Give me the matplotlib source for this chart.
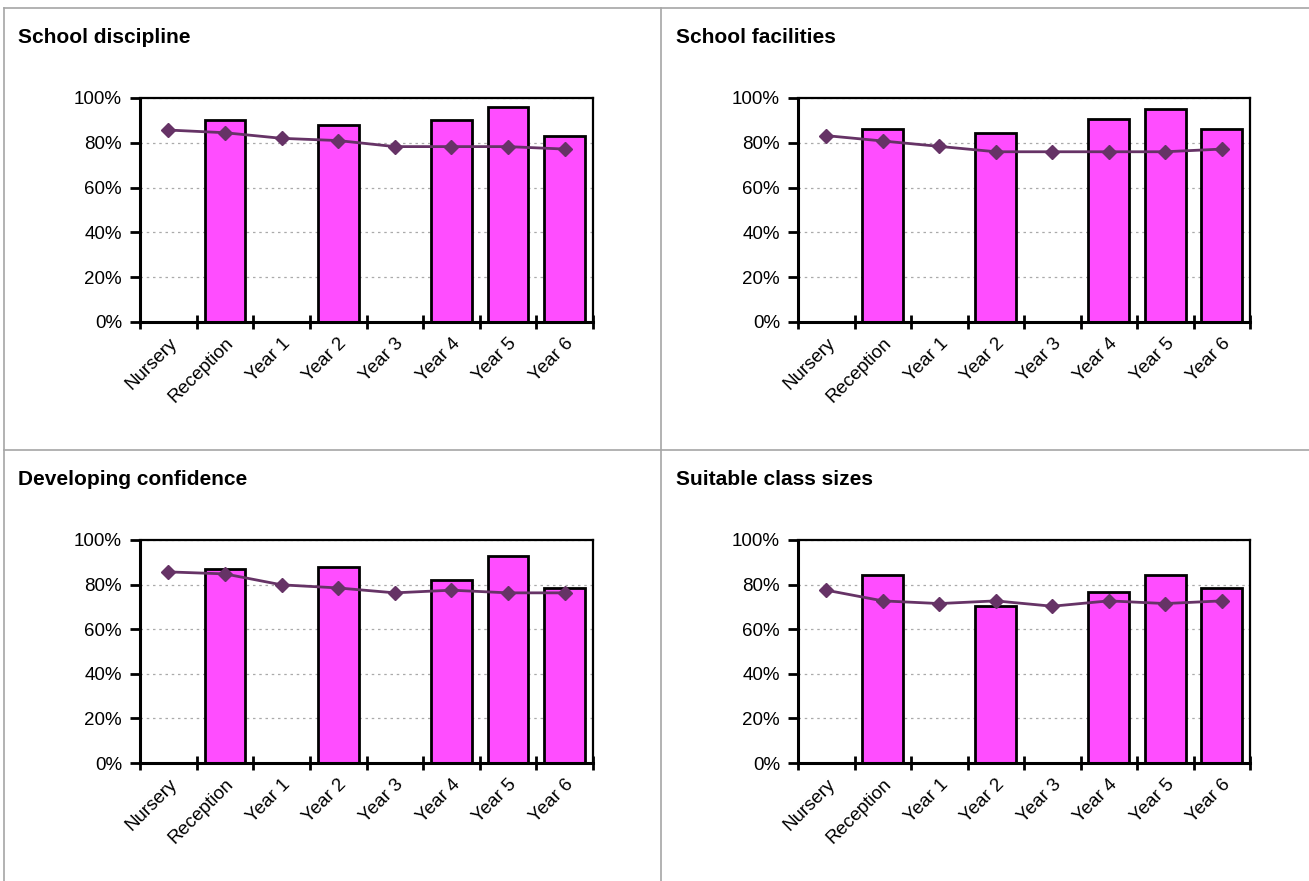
import numpy as np
import matplotlib.pyplot as plt
from matplotlib.lines import Line2D
from matplotlib.ticker import FixedLocator, PercentFormatter

plt.rcParams['font.family'] = ['Liberation Sans', 'DejaVu Sans']

categories = ["Nursery", "Reception", "Year 1", "Year 2", "Year 3", "Year 4", "Year 5", "Year 6"]
titles = ["School discipline", "School facilities", "Developing confidence", "Suitable class sizes"]

# bars (school) - NaN where there is no bar
bars_discipline = [np.nan, 90, np.nan, 88, np.nan, 90, 96, 83]
bars_facilities = [np.nan, 86, np.nan, 84.5, np.nan, 90.5, 95, 86]
bars_confidence = [np.nan, 87, np.nan, 88, np.nan, 82, 93, 78.5]
bars_classsize = [np.nan, 84.5, np.nan, 70.5, np.nan, 76.5, 84.5, 78.5]

# line (comparison)
line_discipline = [85.7, 84.5, 82, 81, 78.3, 78.3, 78.3, 77.2]
line_facilities = [83.2, 80.8, 78.4, 76, 76, 76, 76, 77.2]
line_confidence = [85.7, 84.8, 79.9, 78.5, 76.3, 77.5, 76.3, 76.3]
line_classsize = [77.5, 72.7, 71.5, 72.7, 70.3, 72.7, 71.5, 72.7]

bar_sets = [bars_discipline, bars_facilities, bars_confidence, bars_classsize]
line_sets = [line_discipline, line_facilities, line_confidence, line_classsize]

W, H = 1309, 881
fig = plt.figure(figsize=(W / 100, H / 100), dpi=100)

def fx(px):
    return px / W

def fy(px):
    return 1 - px / H

# panel frame lines
grey = "#a6a6a6"
fig.add_artist(Line2D([fx(4), fx(4)], [fy(8), 0], color=grey, lw=1.2))
fig.add_artist(Line2D([fx(4), 1], [fy(8), fy(8)], color=grey, lw=1.2))
fig.add_artist(Line2D([fx(661), fx(661)], [fy(8), 0], color=grey, lw=1.2))
fig.add_artist(Line2D([fx(4), 1], [fy(450), fy(450)], color=grey, lw=1.2))

# axes boxes in pixels: left, top, right, bottom
boxes = [(140, 98, 593, 322), (798, 98, 1250, 322),
         (140, 540, 593, 763), (798, 540, 1250, 763)]
title_pos = [(18, 43), (676, 43), (18, 485), (676, 485)]

x = np.arange(len(categories))
for i in range(4):
    l, t, r, b = boxes[i]
    ax = fig.add_axes([fx(l), fy(b), fx(r - l), (b - t) / H])
    ax.bar(x, bar_sets[i], width=0.72, color="#ff4dff", edgecolor="black", linewidth=2, zorder=2)
    ax.plot(x, line_sets[i], color="#663366", lw=2, marker="D", markersize=7.5, zorder=3)
    ax.set_xlim(-0.5, 7.5)
    ax.set_ylim(0, 100)
    ax.yaxis.set_major_locator(FixedLocator([0, 20, 40, 60, 80, 100]))
    ax.yaxis.set_major_formatter(PercentFormatter(decimals=0))
    ax.set_xticks(x)
    ax.set_xticklabels(categories, rotation=45, ha="right", rotation_mode="anchor")
    ax.xaxis.set_minor_locator(FixedLocator(np.arange(-0.5, 8, 1)))
    ax.tick_params(axis="x", which="major", length=0, pad=9, labelsize=13.5)
    ax.tick_params(axis="x", which="minor", direction="inout", length=10, width=2)
    ax.tick_params(axis="y", direction="out", length=7, width=2, pad=6, labelsize=13.5)
    ax.grid(axis="y", linestyle=(0, (2, 3)), color="#aaaaaa", linewidth=0.9, zorder=0)
    ax.set_axisbelow(True)
    for s in ["left", "bottom"]:
        ax.spines[s].set_linewidth(2.2)
    for s in ["top", "right"]:
        ax.spines[s].set_linewidth(1.6)
    tx, ty = title_pos[i]
    fig.text(fx(tx), fy(ty), titles[i], fontsize=15, fontweight="bold", va="baseline", ha="left")

fig.savefig("out.png", dpi=100)
